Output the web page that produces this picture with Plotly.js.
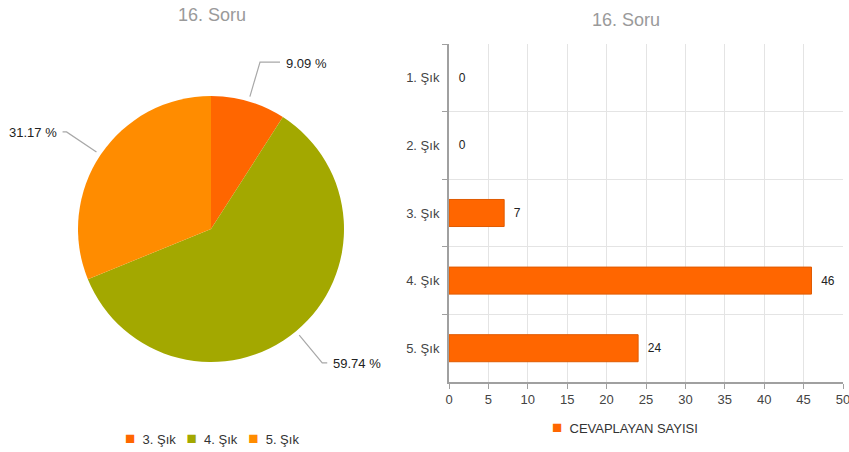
<!DOCTYPE html>
<html>
<head>
<meta charset="utf-8">
<script src="https://cdn.plot.ly/plotly-3.0.1.min.js"></script>
<style>html,body{margin:0;padding:0;background:#fff;}#chart{width:849px;height:452px;}</style>
</head>
<body>
<div id="chart"></div>
<script>
// ---- data ----
const barCategories = ['1. Şık', '2. Şık', '3. Şık', '4. Şık', '5. Şık'];
const barCounts = [0, 0, 7, 46, 24];
const barSeriesName = 'CEVAPLAYAN SAYISI';
const pieLabels = ['3. Şık', '4. Şık', '5. Şık'];
const pieValues = [7, 46, 24];
const chartTitle = '16. Soru';
const xTickVals = [0, 5, 10, 15, 20, 25, 30, 35, 40, 45, 50];

// ---- styles / layout constants ----
const W = 849, H = 452;
const FONT = 'Arial, "Liberation Sans", sans-serif';
const pieColors = ['#FF6600', '#A3A800', '#FF8C00'];
const barColor = '#FF6600';
const pieCx = 211, pieCy = 229, pieR = 133;   // pixel geometry of the pie
const px = x => x / W;
const py = y => 1 - y / H;
const NB = n => '\u00a0'.repeat(n);

const total = pieValues.reduce((a, b) => a + b, 0);
const pieText = pieValues.map(v => (v / total * 100).toFixed(2) + ' %');

// leader lines and labels computed from slice mid-angles
const shapes = [];
const annotations = [];
const elbowLen = [20, 5, 4];
let cum = 0;
pieValues.forEach((v, i) => {
  const mid = (cum + v / 2) / total * 2 * Math.PI; // clockwise from 12 o'clock
  cum += v;
  const s = Math.sin(mid), c = Math.cos(mid);
  const r1 = pieR + 5, r2 = pieR + 41;
  const x1 = pieCx + r1 * s, y1 = pieCy - r1 * c;
  const x2 = pieCx + r2 * s, y2 = pieCy - r2 * c;
  const dir = s >= 0 ? 1 : -1;
  const x3 = x2 + dir * elbowLen[i];
  shapes.push({
    type: 'path', xref: 'paper', yref: 'paper',
    path: `M ${px(x1)} ${py(y1)} L ${px(x2)} ${py(y2)} L ${px(x3)} ${py(y2)}`,
    line: {color: '#a8a8a8', width: 1.2}
  });
  annotations.push({
    xref: 'paper', yref: 'paper', x: px(x3 + dir * 4), y: py(y2 + 1),
    xanchor: dir > 0 ? 'left' : 'right', yanchor: 'middle',
    text: pieText[i], showarrow: false,
    font: {family: FONT, size: 13, color: '#222'}
  });
});

// titles
annotations.push({
  xref: 'paper', yref: 'paper', x: px(212), y: py(15), xanchor: 'center', yanchor: 'middle',
  text: chartTitle, showarrow: false, font: {family: FONT, size: 18, color: '#9a9a9a'}
});
annotations.push({
  xref: 'paper', yref: 'paper', x: px(626), y: py(20), xanchor: 'center', yanchor: 'middle',
  text: chartTitle, showarrow: false, font: {family: FONT, size: 18, color: '#9a9a9a'}
});

// legends (built from labels/colours)
const sq = col => `<span style="color:${col};font-size:17px">■</span>`;
const pieLegendText = pieLabels
  .map((l, i) => `${sq(pieColors[i])}${NB(2)}${l}`)
  .join(NB(3));
annotations.push({
  xref: 'paper', yref: 'paper', x: px(212), y: py(438), xanchor: 'center', yanchor: 'middle',
  text: pieLegendText, showarrow: false, font: {family: FONT, size: 13, color: '#333'}
});
annotations.push({
  xref: 'paper', yref: 'paper', x: px(625), y: py(427), xanchor: 'center', yanchor: 'middle',
  text: `${sq(barColor)}${NB(2)}${barSeriesName}`,
  showarrow: false, font: {family: FONT, size: 13, color: '#333'}
});

const pieTrace = {
  type: 'pie',
  labels: pieLabels,
  values: pieValues,
  marker: {colors: pieColors, line: {width: 0}},
  sort: false,
  direction: 'clockwise',
  rotation: 0,
  textinfo: 'none',
  domain: {x: [px(pieCx - pieR), px(pieCx + pieR)], y: [py(pieCy + pieR), py(pieCy - pieR)]},
  showlegend: false,
  hoverinfo: 'label+percent'
};

const barTrace = {
  type: 'bar',
  orientation: 'h',
  y: barCategories,
  x: barCounts,
  name: barSeriesName,
  marker: {color: barColor, line: {color: '#E05A00', width: barCounts.map(v => v > 0 ? 1 : 0)}},
  width: 0.4,
  text: barCounts.map(v => NB(2) + v),
  textposition: 'outside',
  cliponaxis: false,
  textfont: {family: FONT, size: 12, color: '#222'},
  xaxis: 'x', yaxis: 'y',
  showlegend: false
};

const layout = {
  width: W, height: H,
  margin: {l: 0, r: 0, t: 0, b: 0},
  paper_bgcolor: '#fff', plot_bgcolor: '#fff',
  font: {family: FONT, color: '#444'},
  showlegend: false,
  xaxis: {
    domain: [px(449), px(843)],
    range: [0, 50], tickvals: xTickVals,
    showgrid: true, gridcolor: '#e4e4e4', gridwidth: 1,
    zeroline: false,
    showline: true, linecolor: '#a0a0a0', linewidth: 1.5,
    ticks: 'outside', ticklen: 5, tickcolor: '#a0a0a0',
    tickfont: {family: FONT, size: 13, color: '#444'},
    ticklabeloverflow: 'allow',
    fixedrange: true
  },
  yaxis: {
    domain: [py(382), py(44)],
    type: 'category',
    categoryorder: 'array', categoryarray: barCategories,
    autorange: 'reversed',
    tickson: 'boundaries',
    showgrid: true, gridcolor: '#e4e4e4', gridwidth: 1,
    showline: true, linecolor: '#a0a0a0', linewidth: 2,
    ticks: 'outside', ticklen: 5, tickcolor: '#a0a0a0',
    ticklabelstandoff: 5,
    tickfont: {family: FONT, size: 13, color: '#444'},
    fixedrange: true
  },
  shapes: shapes,
  annotations: annotations
};

Plotly.newPlot('chart', [pieTrace, barTrace], layout, {displayModeBar: false, staticPlot: true});
</script>
</body>
</html>
